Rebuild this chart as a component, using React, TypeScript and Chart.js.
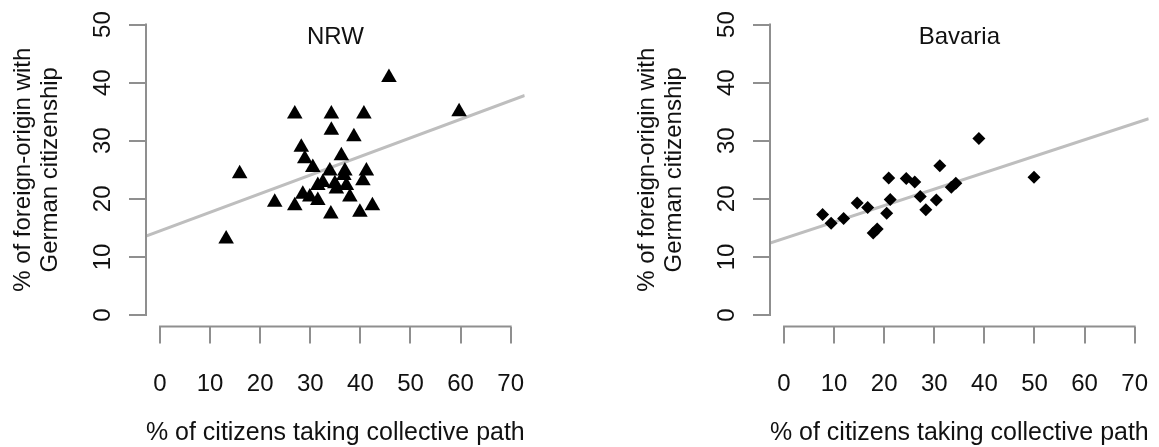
import React, { useEffect, useRef } from 'react';
import { Chart, registerables } from 'chart.js';

Chart.register(...registerables);

// ---- Data ----
const xTicks = [0, 10, 20, 30, 40, 50, 60, 70];
const yTicks = [0, 10, 20, 30, 40, 50];
const xRange = [-2.8, 72.8];
const yRange = [-2, 52];

const xTitle = '% of citizens taking collective path';
const yTitle = ['% of foreign-origin with', 'German citizenship'];

const nrwTitle = 'NRW';
const nrwX = [13.2, 15.9, 22.9, 26.9, 26.9, 28.2, 28.9, 30.5, 28.5, 29.9, 31.5, 31.5, 32.5, 33.9, 34.2, 34.2,
  34.1, 34.9, 35.2, 36.2, 36.7, 36.9, 37.2, 37.9, 38.7, 39.9, 40.5, 40.7, 41.2, 42.4, 45.7, 59.7];
const nrwY = [13.1, 24.3, 19.4, 18.8, 34.6, 28.9, 26.9, 25.4, 20.8, 20.3, 19.7, 22.3, 22.8, 24.8, 34.6, 31.8,
  17.4, 22.6, 21.7, 27.4, 24.0, 24.8, 22.3, 20.3, 30.7, 17.7, 23.1, 34.6, 24.8, 18.8, 40.9, 35.0];
const nrwFitX = [-2.8, 72.8];
const nrwFitY = [13.6, 37.8];

const bavTitle = 'Bavaria';
const bavX = [7.7, 9.4, 11.9, 14.6, 16.7, 17.8, 18.6, 20.5, 21.2, 20.9, 24.4, 26.1, 27.2, 28.3, 30.4, 31.1,
  33.4, 34.3, 38.9, 49.9];
const bavY = [17.3, 15.8, 16.6, 19.3, 18.5, 14.1, 14.8, 17.5, 19.9, 23.6, 23.5, 22.9, 20.4, 18.1, 19.8, 25.7,
  22.0, 22.7, 30.4, 23.7];
const bavFitX = [-2.8, 72.8];
const bavFitY = [12.4, 33.8];

// ---- Styles ----
const FONT_FAMILY = '"Liberation Sans", Arial, Helvetica, sans-serif';
const TEXT_COLOR = '#111111';
const AXIS_COLOR = '#8f8f8f';
const FIT_COLOR = '#bebebe';
const PANEL_W = 535;
const PANEL_H = 447;

const panelDecor = {
  id: 'panelDecor',
  afterDraw(chart: any, _args: any, opts: any) {
    const { ctx, chartArea } = chart;
    const xs = chart.scales.x;
    const ys = chart.scales.y;
    ctx.save();
    ctx.strokeStyle = AXIS_COLOR;
    ctx.lineWidth = 2;
    ctx.lineCap = 'square';
    ctx.beginPath();
    ctx.moveTo(xs.getPixelForValue(xTicks[0]), chartArea.bottom);
    ctx.lineTo(xs.getPixelForValue(xTicks[xTicks.length - 1]), chartArea.bottom);
    ctx.moveTo(chartArea.left, ys.getPixelForValue(yTicks[0]));
    ctx.lineTo(chartArea.left, ys.getPixelForValue(yTicks[yTicks.length - 1]));
    ctx.stroke();
    ctx.fillStyle = TEXT_COLOR;
    ctx.font = `24px ${FONT_FAMILY}`;
    ctx.textAlign = 'center';
    ctx.textBaseline = 'middle';
    ctx.fillText(opts.title, (chartArea.left + chartArea.right) / 2, chartArea.top + 24);
    ctx.restore();
  },
};

type PanelProps = {
  title: string;
  xs: number[];
  ys: number[];
  fitX: number[];
  fitY: number[];
  pointStyle: string;
  pointRadius: number;
  left: number;
};

function Panel(props: PanelProps) {
  const ref = useRef<HTMLCanvasElement>(null);
  useEffect(() => {
    const font = { family: FONT_FAMILY, size: 24 };
    const chart = new Chart(ref.current as HTMLCanvasElement, {
      type: 'scatter',
      data: {
        datasets: [
          {
            type: 'scatter',
            data: props.xs.map((x, i) => ({ x, y: props.ys[i] })),
            pointStyle: props.pointStyle as any,
            pointRadius: props.pointRadius,
            pointHoverRadius: props.pointRadius,
            backgroundColor: '#000000',
            borderColor: '#000000',
            borderWidth: 0,
          },
          {
            type: 'line',
            data: props.fitX.map((x, i) => ({ x, y: props.fitY[i] })),
            borderColor: FIT_COLOR,
            borderWidth: 3,
            pointRadius: 0,
            fill: false,
            tension: 0,
          } as any,
        ],
      },
      options: {
        animation: false,
        responsive: false,
        events: [],
        layout: { padding: { left: 0, right: 10.3, top: 13, bottom: 0 } },
        plugins: {
          legend: { display: false },
          tooltip: { enabled: false },
          title: { display: false },
          panelDecor: { title: props.title },
        } as any,
        scales: {
          x: {
            type: 'linear',
            min: xRange[0],
            max: xRange[1],
            afterBuildTicks: (s: any) => {
              s.ticks = xTicks.map((v) => ({ value: v }));
            },
            afterFit: (s: any) => {
              s.height = 120.4;
              s.paddingLeft = 0;
              s.paddingRight = 0;
              s.paddingTop = 0;
              s.paddingBottom = 0;
            },
            grid: {
              display: true,
              drawOnChartArea: false,
              drawTicks: true,
              tickLength: 17,
              color: AXIS_COLOR,
              lineWidth: 2,
            },
            border: { display: false },
            ticks: { padding: 26, font, color: TEXT_COLOR, maxRotation: 0, minRotation: 0, autoSkip: false },
            title: {
              display: true,
              text: xTitle,
              font: { family: FONT_FAMILY, size: 25, lineHeight: 1.12 },
              color: TEXT_COLOR,
              padding: { top: 0, bottom: 0 },
            },
          },
          y: {
            type: 'linear',
            min: yRange[0],
            max: yRange[1],
            afterBuildTicks: (s: any) => {
              s.ticks = yTicks.map((v) => ({ value: v }));
            },
            afterFit: (s: any) => {
              s.width = 146;
              s.paddingLeft = 0;
              s.paddingRight = 0;
              s.paddingTop = 0;
              s.paddingBottom = 0;
            },
            grid: {
              display: true,
              drawOnChartArea: false,
              drawTicks: true,
              tickLength: 17,
              color: AXIS_COLOR,
              lineWidth: 2,
            },
            border: { display: false },
            ticks: {
              padding: 12,
              font,
              color: TEXT_COLOR,
              minRotation: 90,
              maxRotation: 90,
              crossAlign: 'center',
              autoSkip: false,
            },
            title: {
              display: true,
              text: yTitle,
              font: { family: FONT_FAMILY, size: 24, lineHeight: 1.12 },
              color: TEXT_COLOR,
              padding: { top: 9.8, bottom: 0 },
            },
          },
        },
      } as any,
      plugins: [panelDecor],
    });
    return () => chart.destroy();
  }, []);
  return (
    <canvas
      ref={ref}
      width={PANEL_W}
      height={PANEL_H}
      style={{ position: 'absolute', left: props.left, top: 0, width: PANEL_W, height: PANEL_H }}
    />
  );
}

export default function App() {
  return (
    <div style={{ position: 'absolute', left: 0, top: 0, width: 1159, height: 447, background: '#ffffff', overflow: 'hidden' }}>
      <Panel title={nrwTitle} xs={nrwX} ys={nrwY} fitX={nrwFitX} fitY={nrwFitY} pointStyle="triangle" pointRadius={9} left={0} />
      <Panel title={bavTitle} xs={bavX} ys={bavY} fitX={bavFitX} fitY={bavFitY} pointStyle="rectRot" pointRadius={6.5} left={624} />
    </div>
  );
}
